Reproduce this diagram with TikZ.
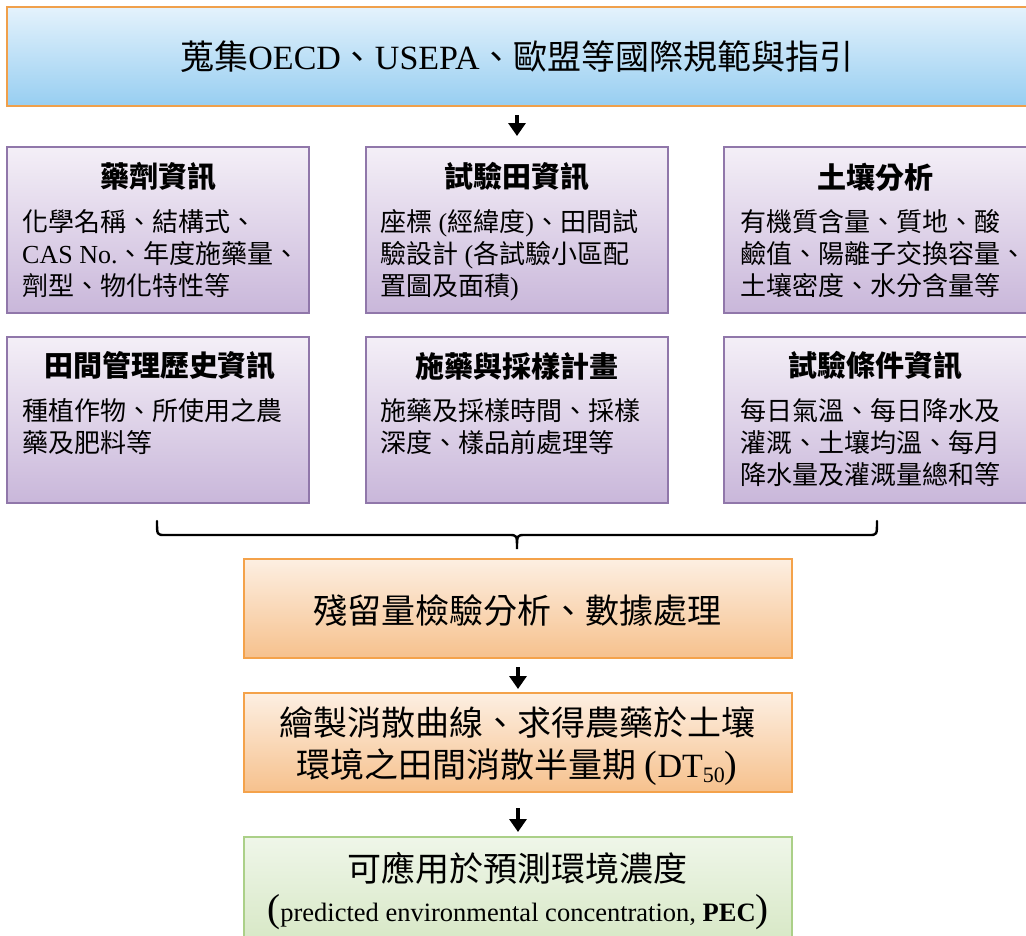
\documentclass[tikz,border=0pt]{standalone}
\usepackage{fontspec}
\setmainfont{Liberation Serif}
\newfontfamily\cjk{Noto Sans CJK TC}
\usetikzlibrary{arrows.meta}
\newcommand\lat[1]{{\rmfamily #1}}
\definecolor{bluetop}{HTML}{E4F2FC}
\definecolor{bluebot}{HTML}{97CEF1}
\definecolor{bluedraw}{HTML}{F0A04B}
\definecolor{purtop}{HTML}{F4EFF7}
\definecolor{purbot}{HTML}{C9B7DA}
\definecolor{purdraw}{HTML}{9077AA}
\definecolor{oratop}{HTML}{FDEFE2}
\definecolor{orabot}{HTML}{F6C18D}
\definecolor{oradraw}{HTML}{F4A24A}
\definecolor{grntop}{HTML}{EFF6E9}
\definecolor{grnbot}{HTML}{D6E7C4}
\definecolor{grndraw}{HTML}{ABD088}
\tikzset{
  box/.style={draw, line width=1.6pt, inner sep=0pt, outer sep=0pt, anchor=north west},
  bluebox/.style={box, draw=bluedraw, top color=bluetop, bottom color=bluebot},
  purbox/.style={box, draw=purdraw, top color=purtop, bottom color=purbot, minimum width=302pt, minimum height=166pt},
  orabox/.style={box, draw=oradraw, top color=oratop, bottom color=orabot, minimum width=548pt, minimum height=99pt},
  grnbox/.style={box, draw=grndraw, top color=grntop, bottom color=grnbot, minimum width=548pt, minimum height=110pt},
  hd/.style={font=\cjk\bfseries\fontsize{29}{34}\selectfont, inner sep=0pt, anchor=center},
  bd/.style={font=\cjk\fontsize{26}{32}\selectfont, inner sep=0pt, anchor=north west, align=left},
  big/.style={font=\cjk\fontsize{34}{42}\selectfont, inner sep=0pt, align=center},
  arr/.style={line width=3.6pt, -{Triangle[width=17pt,length=13pt]}},
  brace/.style={line width=2.4pt, line cap=round}
}
\begin{document}
\begin{tikzpicture}[x=1pt,y=-1pt]
\useasboundingbox (0,0) rectangle (1026,935);
\clip (0,0) rectangle (1026,935);
% top box
\node[bluebox, minimum width=1030pt, minimum height=99pt] (top) at (7,7) {};
\node[big, anchor=center] (toptxt) at (517,57) {蒐集\lat{OECD}、\lat{USEPA}、歐盟等國際規範與指引};
% row 1
\node[purbox] (b1) at (7,147) {};
\node[purbox] (b2) at (366,147) {};
\node[purbox, minimum width=310pt] (b3) at (724,147) {};
\node[hd] (h1) at (158,177) {藥劑資訊};
\node[hd] (h2) at (517,177) {試驗田資訊};
\node[hd] (h3) at (875,177) {土壤分析};
\node[bd] (t1) at (22,209) {化學名稱、結構式、\\\lat{CAS No.}、年度施藥量、\\劑型、物化特性等};
\node[bd] (t2) at (380,209) {座標\lat{ (}經緯度\lat{)}、田間試\\驗設計\lat{ (}各試驗小區配\\置圖及面積\lat{)}};
\node[bd] (t3) at (740,209) {有機質含量、質地、酸\\鹼值、陽離子交換容量、\\土壤密度、水分含量等};
% row 2
\node[purbox] (b4) at (7,337) {};
\node[purbox] (b5) at (366,337) {};
\node[purbox, minimum width=310pt] (b6) at (724,337) {};
\node[hd] (h4) at (160,366) {田間管理歷史資訊};
\node[hd] (h5) at (517,366) {施藥與採樣計畫};
\node[hd] (h6) at (875,366) {試驗條件資訊};
\node[bd] (t4) at (22,398) {種植作物、所使用之農\\藥及肥料等};
\node[bd] (t5) at (380,398) {施藥及採樣時間、採樣\\深度、樣品前處理等};
\node[bd] (t6) at (740,398) {每日氣溫、每日降水及\\灌溉、土壤均溫、每月\\降水量及灌溉量總和等};
% brace
\coordinate (bl) at (157,521);
\coordinate (br) at (877,521);
\coordinate (bm) at (517,549);
\draw[brace] (bl) .. controls (157,535) .. (165,535) -- (509,535)
  .. controls (517,535) .. (bm) .. controls (517,535) .. (525,535) -- (869,535)
  .. controls (877,535) .. (br);
% lower boxes
\node[orabox] (o1) at (244,559) {};
\node[big] (o1t) at (517,610) {殘留量檢驗分析、數據處理};
\node[orabox] (o2) at (244,693) {};
\node[big, anchor=north] (o2t) at (517,706) {繪製消散曲線、求得農藥於土壤\\環境之田間消散半量期\lat{ {\fontsize{38}{38}\selectfont(}DT\raisebox{-0.35ex}{\fontsize{22}{22}\selectfont 50}{\fontsize{38}{38}\selectfont)}}};
\node[grnbox] (g1) at (244,837) {};
\node[big] (g1t) at (517,868) {可應用於預測環境濃度};
\node[inner sep=0pt, font=\fontsize{26.5}{30}\selectfont] (g2t) at (518,912) {{\fontsize{39}{39}\selectfont(}predicted environmental concentration, \textbf{PEC}{\fontsize{39}{39}\selectfont)}};
% arrows
\draw[arr, shorten <=9pt, shorten >=11pt] (top.south -| b2.north) -- (b2.north);
\draw[arr, shorten <=9pt, shorten >=4pt] (o1.south) -- (o2.north);
\draw[arr, shorten <=16pt, shorten >=5pt] (o2.south) -- (g1.north);
\end{tikzpicture}
\end{document}
